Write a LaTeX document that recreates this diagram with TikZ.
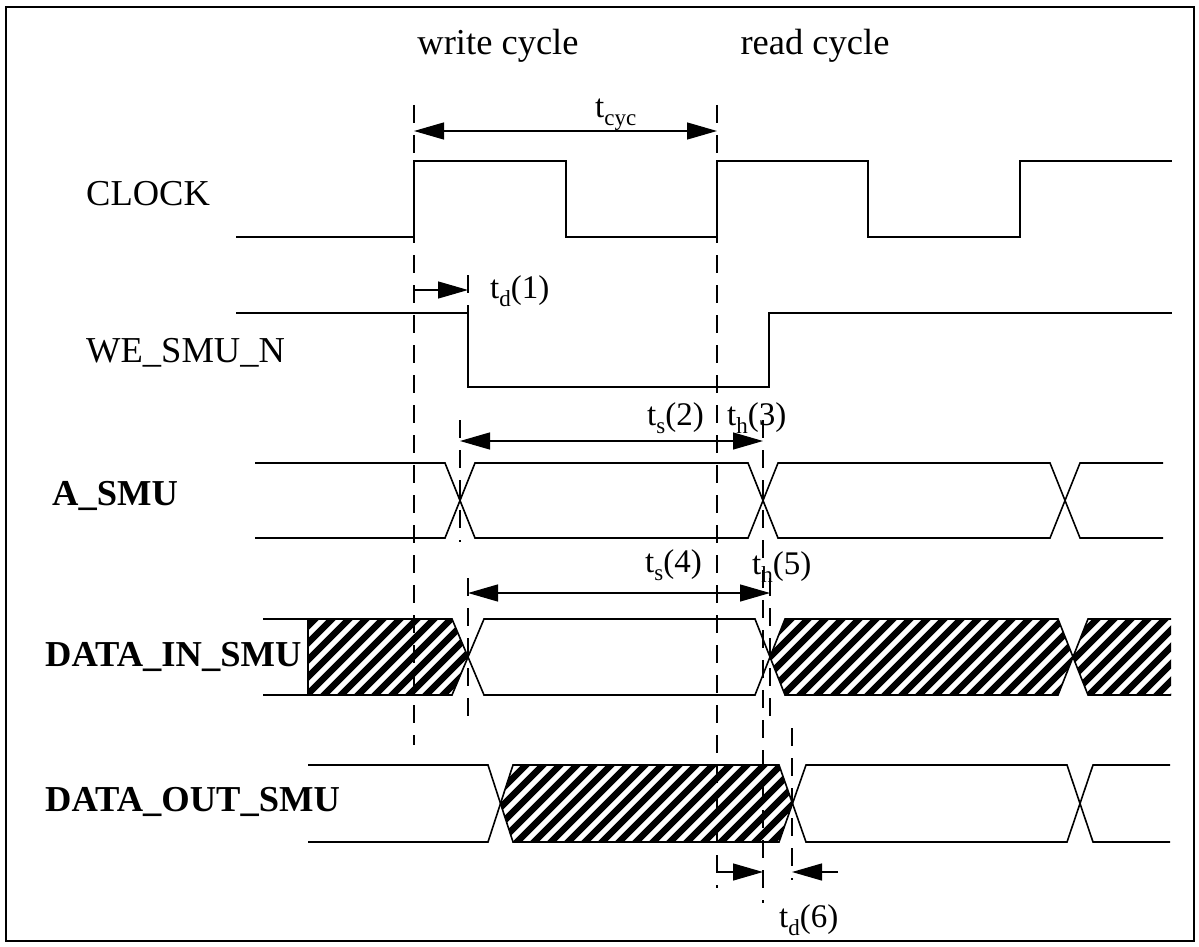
\documentclass[tikz,border=0pt]{standalone}
\usepackage{fontspec}
\setmainfont{Liberation Serif}
\usetikzlibrary{arrows.meta}
\newcommand\tsub[1]{\raisebox{-8pt}{\fontsize{23}{23}\selectfont #1}}
\newcommand\hatchfill[1]{%
  \begin{scope}
    \clip #1;
    \foreach \k in {0,...,78} \draw[line width=6.6pt] (\k*17,900) -- ++(420,-420);
  \end{scope}}
\begin{document}
\begin{tikzpicture}[x=1pt,y=-1pt,
  wave/.style={line width=1.6pt, line join=miter},
  guide/.style={line width=1.3pt, dash pattern=on 18pt off 12pt},
  tipa/.style={-{Triangle[length=30pt,width=17pt]}, line width=1.3pt},
  tipb/.style={{Triangle[length=30pt,width=17pt]}-{Triangle[length=30pt,width=17pt]}, line width=1.3pt},
  sig/.style={font=\fontsize{36.5}{40}\selectfont, anchor=base west, inner sep=0pt},
  sigb/.style={font={\fontsize{36.5}{40}\selectfont\bfseries}, anchor=base west, inner sep=0pt},
  head/.style={font=\fontsize{36.5}{40}\selectfont, anchor=base, inner sep=0pt},
  tlab/.style={font=\fontsize{33}{36}\selectfont, anchor=base west, inner sep=0pt}]
\useasboundingbox (0,0) rectangle (1199,947);
\draw[line width=1.8pt] (6,7) rectangle (1194,941);

% headings
\node[head] (wc) at (498,55) {write cycle};
\node[head] (rc) at (815,55) {read cycle};

% signal names
\node[sig]  (clk) at (86,205) {CLOCK};
\node[sig]  (we)  at (86,362) {WE\_SMU\_N};
\node[sigb] (asmu) at (52,505) {A\_SMU};
\node[sigb] (din) at (45,666) {DATA\_IN\_SMU};
\node[sigb] (dout) at (45,811) {DATA\_OUT\_SMU};

% hatched regions
\hatchfill{(308,619) -- (452,619) -- (468,657) -- (452,695) -- (308,695) -- cycle}
\hatchfill{(770,657) -- (785,619) -- (1058,619) -- (1073,657) -- (1058,695) -- (785,695) -- cycle}
\hatchfill{(1073,657) -- (1088,619) -- (1171,619) -- (1171,695) -- (1088,695) -- cycle}
\hatchfill{(500,803) -- (513,765) -- (779,765) -- (792,803) -- (779,842) -- (513,842) -- cycle}

% waveforms
\draw[wave] (236,237) -- (414,237) -- (414,161) -- (566,161) -- (566,237) -- (717,237) -- (717,161) -- (868,161) -- (868,237) -- (1020,237) -- (1020,161) -- (1172,161);
\draw[wave] (236,313) -- (468,313) -- (468,387) -- (769,387) -- (769,313) -- (1172,313);
\draw[wave] (255,463) -- (445,463) -- (475,538) -- (748,538) -- (778,463) -- (1050,463) -- (1080,538) -- (1163,538);
\draw[wave] (255,538) -- (445,538) -- (475,463) -- (748,463) -- (778,538) -- (1050,538) -- (1080,463) -- (1163,463);
\draw[wave] (263,619) -- (452,619) -- (484,695) -- (755,695) -- (785,619) -- (1058,619) -- (1088,695) -- (1171,695);
\draw[wave] (263,695) -- (452,695) -- (484,619) -- (755,619) -- (785,695) -- (1058,695) -- (1088,619) -- (1171,619);
\draw[wave] (308,619) -- (308,695);
\draw[wave] (308,765) -- (488,765) -- (513,842) -- (779,842) -- (806,765) -- (1067,765) -- (1093,842) -- (1170,842);
\draw[wave] (308,842) -- (488,842) -- (513,765) -- (779,765) -- (806,842) -- (1067,842) -- (1093,765) -- (1170,765);

% guide lines
\coordinate (g1a) at (414,105); \coordinate (g1b) at (414,745);
\coordinate (g2a) at (717,105); \coordinate (g2b) at (717,888);
\coordinate (g3a) at (468,275); \coordinate (g3b) at (468,313);
\coordinate (g4a) at (460,420); \coordinate (g4b) at (460,542);
\coordinate (g5a) at (763,420); \coordinate (g5b) at (763,903);
\coordinate (g6a) at (468,578); \coordinate (g6b) at (468,720);
\coordinate (g7a) at (770,578); \coordinate (g7b) at (770,727);
\coordinate (g8a) at (792,728); \coordinate (g8b) at (792,880);
\foreach \g in {1,...,8} \draw[guide] (g\g a) -- (g\g b);

% dimension arrows
\coordinate (cycL) at (414,131); \coordinate (cycR) at (717,131);
\draw[tipb] (cycL) -- (cycR);
\node[tlab] (tcyc) at (595,118) {t\tsub{cyc}};

\coordinate (d1L) at (414,290); \coordinate (d1R) at (468,290);
\draw[tipa] (d1L) -- (d1R);
\node[tlab] (td1) at (490,298) {t\tsub{d}(1)};

\coordinate (s2L) at (460,441); \coordinate (s2R) at (763,441);
\draw[tipb] (s2L) -- (s2R);
\node[tlab] (ts2) at (647,425) {t\tsub{s}(2)};
\node[tlab] (th3) at (727,425) {t\tsub{h}(3)};

\coordinate (s4L) at (468,593); \coordinate (s4R) at (770,593);
\draw[tipb] (s4L) -- (s4R);
\node[tlab] (ts4) at (645,572) {t\tsub{s}(4)};
\node[tlab] (th5) at (752,574) {t\tsub{h}(5)};

\coordinate (d6a) at (717,872); \coordinate (d6b) at (763,872);
\coordinate (d6c) at (838,872); \coordinate (d6d) at (792,872);
\draw[tipa] (d6a) -- (d6b);
\draw[tipa] (d6c) -- (d6d);
\node[tlab] (td6) at (779,927) {t\tsub{d}(6)};
\end{tikzpicture}
\end{document}
